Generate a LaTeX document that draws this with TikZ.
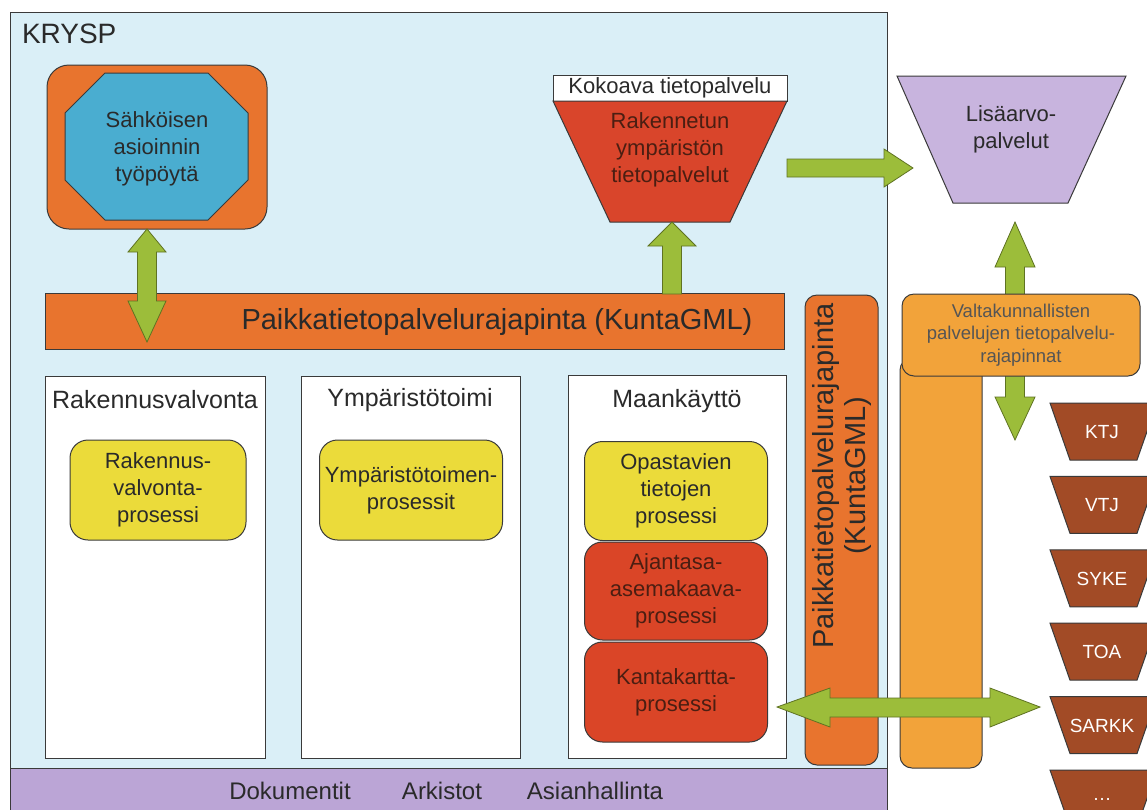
\documentclass[tikz,border=0pt]{standalone}
\usepackage{fontspec}
\setmainfont{Liberation Sans}
\usetikzlibrary{calc}
\definecolor{bgblue}{HTML}{DAEFF7}
\definecolor{orangeA}{HTML}{E8742E}
\definecolor{blueOct}{HTML}{4AADD0}
\definecolor{redTrap}{HTML}{D9452B}
\definecolor{redBox}{HTML}{DA4527}
\definecolor{yellowBox}{HTML}{EBDB3A}
\definecolor{lavTrap}{HTML}{C8B4DE}
\definecolor{purpleBand}{HTML}{BBA5D6}
\definecolor{amber}{HTML}{F2A33A}
\definecolor{brownT}{HTML}{A24B26}
\definecolor{arrowgreen}{HTML}{9CBD3A}
\definecolor{arrowdark}{HTML}{5F7322}
\definecolor{linegray}{HTML}{3A3A3A}
\definecolor{textdark}{HTML}{2A2A2A}
\definecolor{textred}{HTML}{4B1E12}
\begin{document}
\begin{tikzpicture}[x=1pt,y=-1pt,
  every node/.style={inner sep=0pt,outer sep=0pt,align=center,text=textdark},
  outl/.style={draw=linegray,line width=1pt},
  body/.style={font=\fontsize{22}{27}\selectfont},
  title/.style={font=\fontsize{25}{30}\selectfont},
  procbox/.style={outl,rounded corners=18pt,body},
  panel/.style={outl,fill=white},
  garrow/.style={fill=arrowgreen,draw=arrowdark,line width=0.8pt,line join=miter},
  trapbrown/.style={fill=brownT,draw=linegray,line width=1pt},
  smalltxt/.style={font=\fontsize{19}{23}\selectfont,text=white}]
\fill[white] (0,0) rectangle (1147,809);
\clip (0,0) rectangle (1147,809);
% outer KRYSP frame
\node[outl,fill=bgblue,minimum width=877,minimum height=810,anchor=north west] (krysp) at (10,12) {};
\node[anchor=base west,font=\fontsize{28}{32}\selectfont] (kryspt) at (22,43) {KRYSP};
% bottom band
\node[outl,fill=purpleBand,minimum width=877,minimum height=50,anchor=north west] (band) at (10,768) {};
\node[font=\fontsize{24}{28}\selectfont] (dok) at (290,791) {Dokumentit};
\node[font=\fontsize{24}{28}\selectfont] (ark) at (442,791) {Arkistot};
\node[font=\fontsize{24}{28}\selectfont] (asi) at (595,791) {Asianhallinta};
% Sahkoisen asioinnin tyopoyta
\node[outl,fill=orangeA,rounded corners=22pt,minimum width=220,minimum height=164] (sak) at (157,147) {};
\draw[outl,fill=blueOct] (105,73) -- (208,73) -- (248,113) -- (248,180) -- (208,220) -- (105,220) -- (65,180) -- (65,113) -- cycle;
\node[body,text=textdark] (sakt) at (157,149) {Sähköisen\\asioinnin\\työpöytä};
% Kokoava tietopalvelu
\node[outl,fill=white,minimum width=234,minimum height=26,body] (kok) at (670,88) {Kokoava tietopalvelu};
\draw[outl,fill=redTrap] (553,101) -- (787,101) -- (730,222) -- (610,222) -- cycle;
\node[body,text=textred] (rak) at (670,150) {Rakennetun\\ympäristön\\tietopalvelut};
% Lisaarvopalvelut
\draw[outl,fill=lavTrap] (897,76) -- (1126,76) -- (1068,203) -- (953,203) -- cycle;
\node[body] (lis) at (1011,129) {Lisäarvo-\\palvelut};
% arrow kokoava -> lisaarvo
\draw[garrow] (787,159) -- (884,159) -- (884,149) -- (913,168) -- (884,187) -- (884,177) -- (787,177) -- cycle;
% horizontal interface bar
\node[outl,fill=orangeA,minimum width=739,minimum height=56,anchor=north west] (bar) at (45,293) {};
\node[font=\fontsize{29}{33}\selectfont] (bart) at (497,322) {Paikkatietopalvelurajapinta (KuntaGML)};
% arrow sak <-> bar
\draw[garrow] (147,229) -- (166,252) -- (156.5,252) -- (156.5,301) -- (166,301) -- (147,342) -- (128,301) -- (137.5,301) -- (137.5,252) -- (128,252) -- cycle;
% arrow bar -> kokoava
\draw[garrow] (672,222) -- (696,246) -- (681.5,246) -- (681.5,294) -- (662.5,294) -- (662.5,246) -- (648,246) -- cycle;
% panels
\node[panel,minimum width=220,minimum height=382,anchor=north west] (p1) at (45,376) {};
\node[panel,minimum width=219,minimum height=382,anchor=north west] (p2) at (301,376) {};
\node[panel,minimum width=218,minimum height=383,anchor=north west] (p3) at (568,375) {};
\node[title] (p1t) at (155,400) {Rakennusvalvonta};
\node[title] (p2t) at (410,400) {Ympäristötoimi};
\node[title] (p3t) at (677,401) {Maankäyttö};
\node[procbox,fill=yellowBox,minimum width=176,minimum height=100] (rv) at (158,490) {Rakennus-\\valvonta-\\prosessi};
\node[procbox,fill=yellowBox,minimum width=183,minimum height=100] (yt) at (411,490) {Ympäristötoimen-\\prosessit};
\node[procbox,fill=yellowBox,minimum width=183,minimum height=99] (op) at (676,491) {Opastavien\\tietojen\\prosessi};
\node[procbox,fill=redBox,minimum width=183,minimum height=98,text=textred] (aj) at (676,591) {Ajantasa-\\asemakaava-\\prosessi};
\node[procbox,fill=redBox,minimum width=183,minimum height=100,text=textred] (kk) at (676,692) {Kantakartta-\\prosessi};
% vertical interface bar
\node[outl,fill=orangeA,rounded corners=12pt,minimum width=73,minimum height=470,anchor=north west] (vbar) at (805,295) {};
\node[rotate=90,font=\fontsize{29}{32}\selectfont] (vbart) at (842,476) {Paikkatietopalvelurajapinta\\(KuntaGML)};
% national interfaces
\node[outl,fill=amber,rounded corners=12pt,minimum width=82,minimum height=410,anchor=north west] (abar) at (900,358) {};
\draw[garrow] (1015,222) -- (1035,267) -- (1024.5,267) -- (1024.5,397) -- (1035,397) -- (1015,440) -- (995,397) -- (1005.5,397) -- (1005.5,267) -- (995,267) -- cycle;
\node[outl,fill=amber,rounded corners=12pt,minimum width=238,minimum height=82,anchor=north west] (val) at (902,294) {};
\node[font=\fontsize{18.5}{22.5}\selectfont,text=textdark!80] (valt) at (1021,335) {Valtakunnallisten\\palvelujen tietopalvelu-\\rajapinnat};
% brown trapezoids
\foreach \n/\t [count=\i from 0] in {ktj/KTJ,vtj/VTJ,syke/SYKE,toa/TOA,sarkk/SARKK}{
  \pgfmathsetmacro{\yt}{403+73.4*\i}
  \draw[trapbrown] (1050,\yt) -- (1157,\yt) -- (1137,\yt+57) -- (1070,\yt+57) -- cycle;
  \node[smalltxt] (\n) at (1102,\yt+29) {\t};
}
\draw[trapbrown] (1050,770) -- (1157,770) -- (1137,827) -- (1070,827) -- cycle;
\node[smalltxt] (more) at (1102,799) {\ldots};
% arrow kantakartta <-> sarkk
\draw[garrow] (777,707) -- (830,688) -- (830,698) -- (990,698) -- (990,688) -- (1040,707) -- (990,727) -- (990,717) -- (830,717) -- (830,727) -- cycle;
\end{tikzpicture}
\end{document}
